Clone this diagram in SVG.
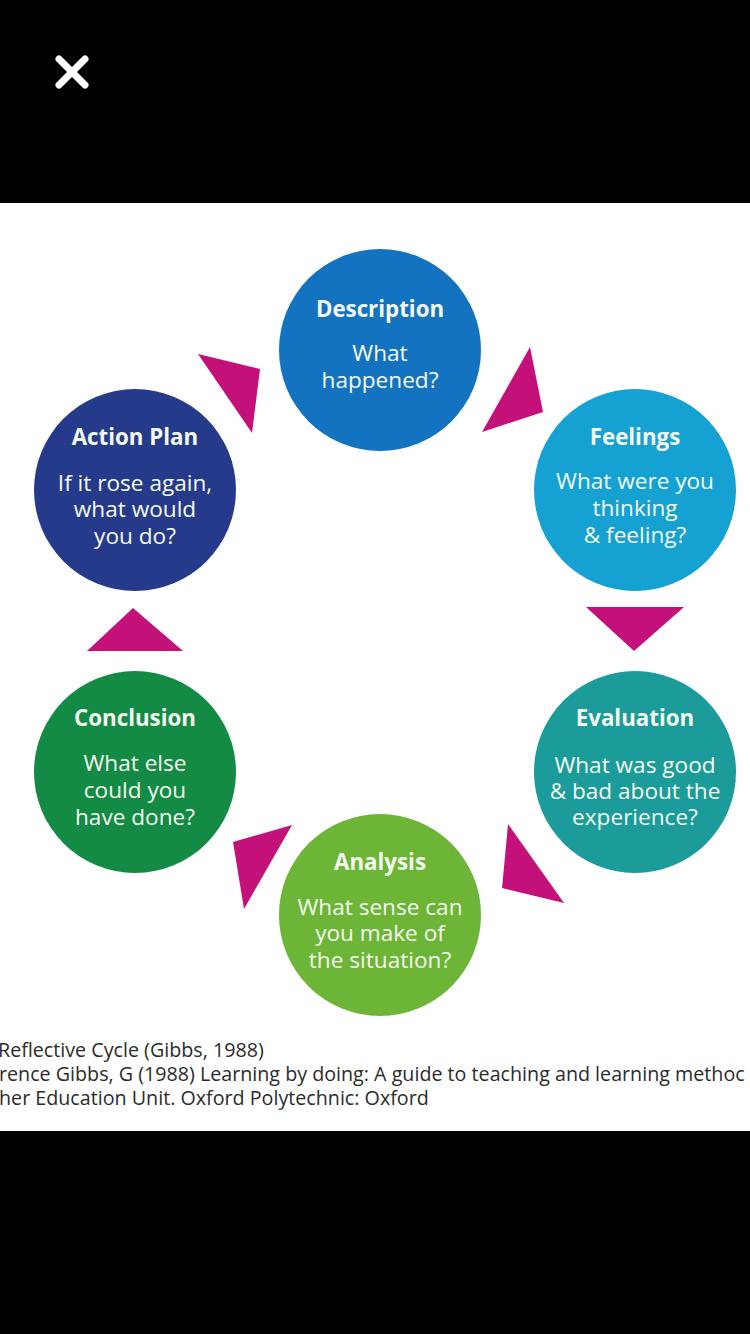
<svg xmlns="http://www.w3.org/2000/svg" width="750" height="1334" viewBox="0 0 750 1334">
<style>
.t{font-family:"Open Sans","Noto Sans","Liberation Sans",sans-serif;fill:#f4faef;text-anchor:middle}
.h{font-weight:700;font-size:22.3px}
.b{font-size:22.6px;font-weight:500}
.ref{font-family:"Open Sans","Noto Sans","Liberation Sans",sans-serif;font-size:19.7px;fill:#2b2b2b}
.arrow{fill:#c4117a}
</style>
<rect x="0" y="0" width="750" height="1334" fill="#000"/>
<rect x="0" y="203" width="750" height="928" fill="#fff"/>
<g id="close">
<path d="M59 59L85 85M85 59L59 85" stroke="#fff" stroke-width="7" stroke-linecap="round"/>
</g>
<g id="connectors">
<polygon class="arrow" points="198,354 260,369 252,433"/>
<polygon class="arrow" points="530,347 543,412 482,432"/>
<polygon class="arrow" points="586,607 684,607 634,651"/>
<polygon class="arrow" points="508,824 564,903 502,888"/>
<polygon class="arrow" points="233,842 292,825 244,909"/>
<polygon class="arrow" points="87,651 183,651 133,608"/>
</g>
<g id="description">
<circle cx="380" cy="350" r="101" fill="#1473c0"/>
<text class="t h" x="380" y="317">Description</text>
<text class="t b" x="380" y="361">What</text>
<text class="t b" x="380" y="388">happened?</text>
</g>
<g id="feelings">
<circle cx="635" cy="490" r="101" fill="#16a1d3"/>
<text class="t h" x="635" y="445">Feelings</text>
<text class="t b" x="635" y="489">What were you</text>
<text class="t b" x="635" y="516">thinking</text>
<text class="t b" x="635" y="543">&amp; feeling?</text>
</g>
<g id="evaluation">
<circle cx="635" cy="772" r="101" fill="#1b9b9a"/>
<text class="t h" x="635" y="726">Evaluation</text>
<text class="t b" x="635" y="773">What was good</text>
<text class="t b" x="635" y="799">&amp; bad about the</text>
<text class="t b" x="635" y="825">experience?</text>
</g>
<g id="analysis">
<circle cx="380" cy="915" r="101" fill="#6cb536"/>
<text class="t h" x="380" y="870">Analysis</text>
<text class="t b" x="380" y="915">What sense can</text>
<text class="t b" x="380" y="941">you make of</text>
<text class="t b" x="380" y="968">the situation?</text>
</g>
<g id="conclusion">
<circle cx="135" cy="772" r="101" fill="#138b45"/>
<text class="t h" x="135" y="726">Conclusion</text>
<text class="t b" x="135" y="771">What else</text>
<text class="t b" x="135" y="798">could you</text>
<text class="t b" x="135" y="825">have done?</text>
</g>
<g id="action-plan">
<circle cx="135" cy="490" r="101" fill="#263a8c"/>
<text class="t h" x="135" y="445">Action Plan</text>
<text class="t b" x="135" y="491">If it rose again,</text>
<text class="t b" x="135" y="517">what would</text>
<text class="t b" x="135" y="544">you do?</text>
</g>
<g id="caption">
<text class="ref" x="-2" y="1057">Reflective Cycle (Gibbs, 1988)</text>
<text class="ref" x="-1" y="1081">rence Gibbs, G (1988) Learning by doing: A guide to teaching and learning methoc</text>
<text class="ref" x="-1" y="1105">her Education Unit. Oxford Polytechnic: Oxford</text>
</g>
</svg>
